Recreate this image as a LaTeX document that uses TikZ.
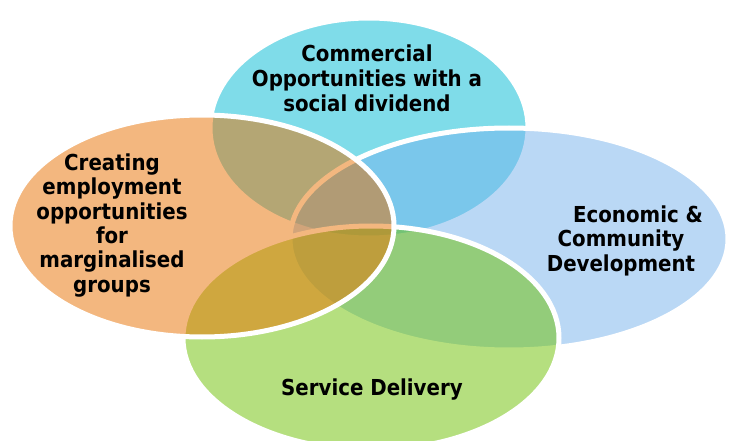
\documentclass[tikz,border=0pt]{standalone}
\usepackage{fontspec}
\newfontfamily\lblfont{DejaVu Sans Condensed Bold}
\definecolor{cyanbase}{RGB}{0,187,213}
\definecolor{bluebase}{RGB}{119,179,237}
\definecolor{greenbase}{RGB}{109,193,0}
\definecolor{orangebase}{RGB}{233,113,1}
\begin{document}
\begin{tikzpicture}[x=1pt,y=-1pt,
  venn/.style={draw=white, line width=5pt, fill opacity=0.5},
  lbl/.style={font=\lblfont\fontsize{22}{25}\selectfont, align=center, text=black, inner sep=0pt, anchor=base}]
\fill[white] (0,0) rectangle (729,441);
\useasboundingbox (0,0) rectangle (729,441);
\begin{scope}
\clip (0,0) rectangle (729,441);
\path[venn, fill=cyanbase]   (369,128) ellipse [x radius=159pt, y radius=110pt];
\path[venn, fill=bluebase]   (509,239) ellipse [x radius=219pt, y radius=111pt];
\path[venn, fill=greenbase]  (371,338) ellipse [x radius=188pt, y radius=112pt];
\path[venn, fill=orangebase] (202,226) ellipse [x radius=192pt, y radius=111pt];
\end{scope}
\node[lbl] (commercial) at (367,112) {Commercial\\Opportunities with a\\social dividend};
\node[lbl] (economic) at (621,272) {\hspace*{34pt}Economic \&\\Community\\Development};
\node[lbl] (service) at (372,395) {Service Delivery};
\node[lbl, font=\lblfont\fontsize{22}{24.3}\selectfont] (employment) at (112,292) {Creating\\employment\\opportunities\\for\\marginalised\\groups};
\end{tikzpicture}
\end{document}
